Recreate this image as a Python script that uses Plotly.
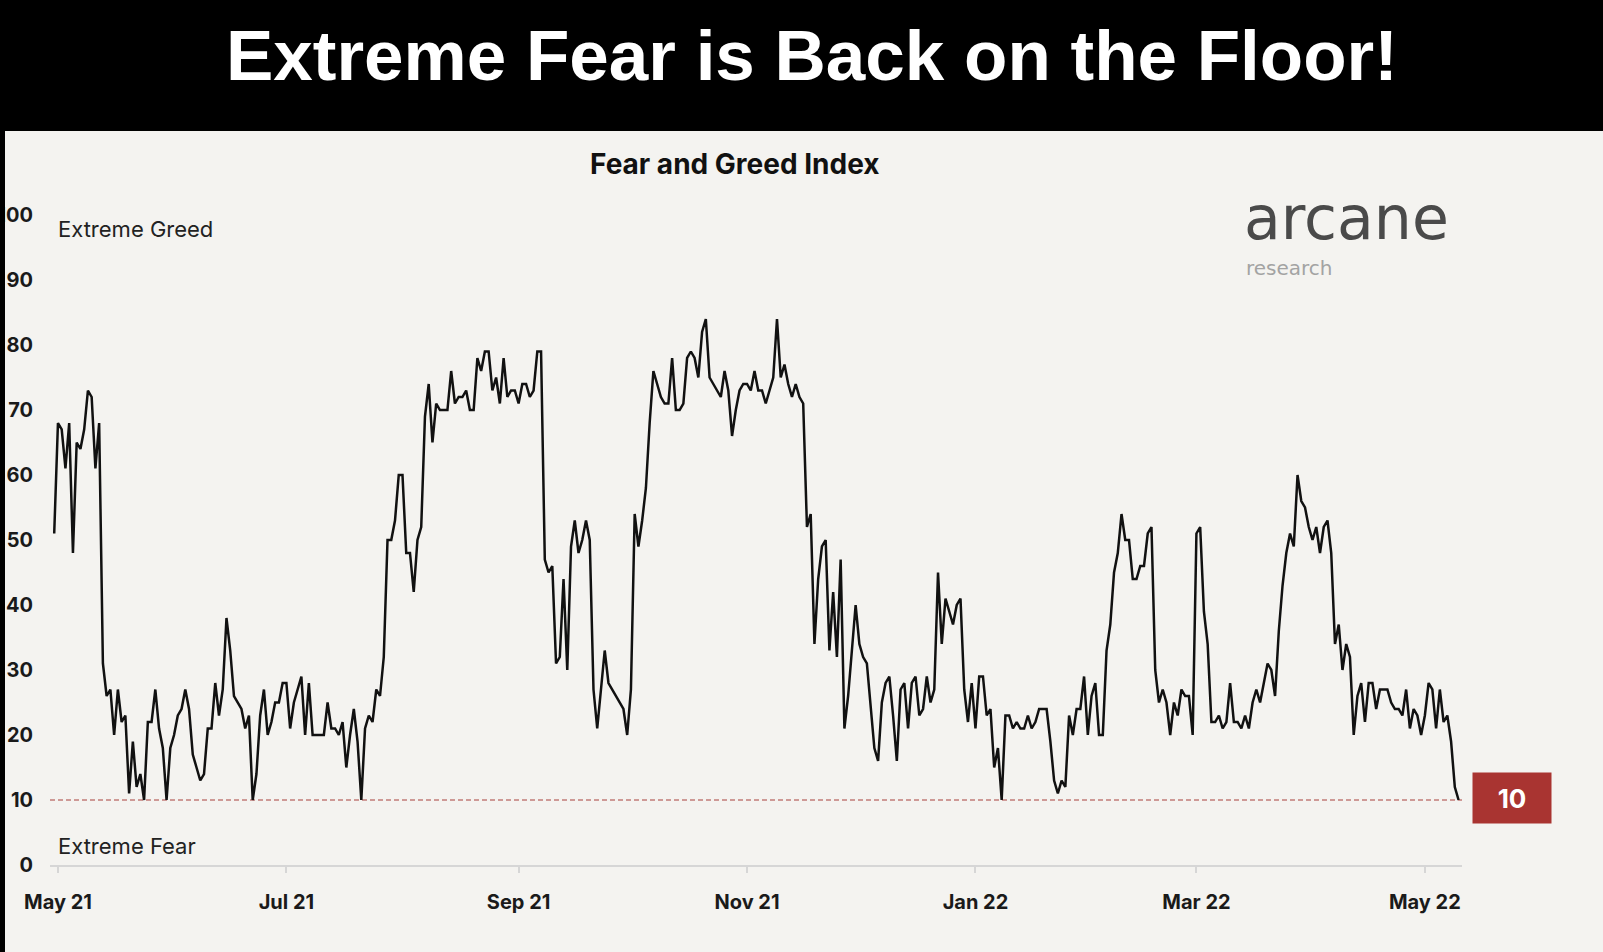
import pandas as pd
import plotly.graph_objects as go

# daily Fear & Greed readings, starting 30 Apr 2021
start_date = "2021-04-30"

fng_may_jul_2021 = [
    51, 68, 67, 61, 68, 48, 65, 64, 67, 73,
    72, 61, 68, 31, 26, 27, 20, 27, 22, 23,
    11, 19, 12, 14, 10, 22, 22, 27, 21, 18,
    10, 18, 20, 23, 24, 27, 24, 17, 15, 13,
    14, 21, 21, 28, 23, 27, 38, 33, 26, 25,
    24, 21, 23, 10, 14, 23, 27, 20, 22, 25,
    25, 28, 28, 21, 25, 27, 29, 20, 28, 20,
    20, 20, 20, 25, 21, 21, 20, 22, 15, 20,
    24, 19, 10, 21, 23, 22, 27, 26, 32,
]
fng_jul_nov_2021 = [
    50, 50, 53, 60, 60, 48, 48, 42, 50, 52,
    69, 74, 65, 71, 70, 70, 70, 76, 71, 72,
    72, 73, 70, 70, 78, 76, 79, 79, 73, 75,
    71, 78, 72, 73, 73, 71, 74, 74, 72, 73,
    79, 79, 47, 45, 46, 31, 32, 44, 30, 49,
    53, 48, 50, 53, 50, 27, 21, 27, 33, 28,
    27, 26, 25, 24, 20, 27, 54, 49, 53, 58,
    68, 76, 74, 72, 71, 71, 78, 70, 70, 71,
    78, 79, 78, 75, 82, 84, 75, 74, 73, 72,
    76, 73, 66, 70, 73, 74, 74, 73, 76, 73,
    73, 71, 73, 75, 84, 75, 77, 74, 72, 74,
    72, 71, 52, 54, 34, 44, 49, 50, 33,
]
fng_nov_2021_feb_2022 = [
    42, 32, 47, 21, 26,
    33, 40, 34, 32, 31, 24, 18, 16, 25, 28,
    29, 23, 16, 27, 28, 21, 28, 29, 23, 24,
    29, 25, 27, 45, 34, 41, 39, 37, 40, 41,
    27, 22, 28, 21, 29, 29, 23, 24, 15, 18,
    10, 23, 23, 21, 22, 21, 21, 23, 21, 22,
    24, 24, 24, 19, 13, 11, 13, 12, 23, 20,
    24, 24, 29, 20, 26, 28, 20, 20, 33, 37,
    45, 48, 54, 50, 50, 44, 44, 46, 46, 51,
    52,
]
fng_feb_may_2022 = [
    30, 25, 27, 25, 20, 25, 23, 27, 26, 26,
    20, 51, 52, 39, 34, 22, 22, 23, 21, 22,
    28, 22, 22, 21, 23, 21, 25, 27, 25, 28,
    31, 30, 26, 36, 43, 48, 51, 49, 60, 56,
    55, 52, 50, 52, 48, 52, 53, 48, 34, 37,
    30, 34, 32, 20, 26, 28, 22, 28, 28, 24,
    27, 27, 27, 25, 24, 24, 23, 27, 21, 24,
    23, 20, 23, 28, 27, 21, 27, 22, 23, 19,
    12, 10,
]

tick_dates = ["2021-05-01", "2021-07-01", "2021-09-01", "2021-11-01",
              "2022-01-01", "2022-03-01", "2022-05-01"]
tick_labels = ["May 21", "Jul 21", "Sep 21", "Nov 21", "Jan 22", "Mar 22", "May 22"]
y_ticks = list(range(0, 101, 10))
extreme_fear_level = 10

values = fng_may_jul_2021 + fng_jul_nov_2021 + fng_nov_2021_feb_2022 + fng_feb_may_2022
dates = pd.date_range(start_date, periods=len(values), freq="D")

# page geometry (pixels) -> paper coords
W, H = 1603, 952
L, R, T, B = 50, 1462, 215, 865
def px(x):
    return (x - L) / (R - L)
def py(y):
    return (B - y) / (B - T)

BG = "#f4f3f0"
FONT = "Inter"
LOGO = "DejaVu Sans"

fig = go.Figure()
fig.add_trace(go.Scatter(x=dates, y=values, mode="lines",
                         line=dict(color="#111111", width=2.5),
                         hoverinfo="x+y", showlegend=False))

# extreme fear reference line
fig.add_shape(type="line", xref="paper", yref="y", x0=0, x1=1,
              y0=extreme_fear_level, y1=extreme_fear_level,
              line=dict(color="#a8403c", width=1, dash="5px,3px"), layer="below")

# black banner + left strip
fig.add_shape(type="rect", xref="paper", yref="paper",
              x0=px(0), x1=px(W), y0=py(131), y1=py(0),
              fillcolor="black", line_width=0, layer="above")
fig.add_shape(type="rect", xref="paper", yref="paper",
              x0=px(0), x1=px(5), y0=py(H), y1=py(0),
              fillcolor="black", line_width=0, layer="above")

ann = [
    dict(text="<b>Extreme Fear is Back on the Floor!</b>", x=px(812), y=py(55),
         font=dict(family="Liberation Sans, Arial", size=71, color="white")),
    dict(text="<b>Fear and Greed Index</b>", x=px(735), y=py(164),
         font=dict(family=FONT, size=28, color="#111111")),
    dict(text="Extreme Greed", x=px(56), y=py(229), xanchor="left",
         font=dict(family=FONT, size=22, color="#222222")),
    dict(text="Extreme Fear", x=px(56), y=py(846), xanchor="left",
         font=dict(family=FONT, size=22, color="#222222")),
    dict(text="arcane", x=px(1242), y=py(218), xanchor="left",
         font=dict(family=LOGO, size=60, color="#4a4a4a")),
    dict(text="research", x=px(1244), y=py(268), xanchor="left",
         font=dict(family=LOGO, size=20, color="#a3a3a3")),
    dict(text="<b>%d</b>" % values[-1], x=px(1512), y=py(798),
         width=78, height=50, bgcolor="#a93431", borderpad=0,
         font=dict(family=FONT, size=26, color="white")),
]
for a in ann:
    a.setdefault("xanchor", "center")
    fig.add_annotation(xref="paper", yref="paper", yanchor="middle",
                       showarrow=False, **a)

fig.update_layout(
    width=W, height=H,
    margin=dict(l=L, r=W - R, t=T, b=H - B),
    paper_bgcolor=BG, plot_bgcolor=BG,
    showlegend=False,
)
fig.update_xaxes(
    range=["2021-04-28 21:00", "2022-05-10 22:00"],
    tickvals=tick_dates, ticktext=tick_labels,
    showgrid=False, zeroline=False, automargin=False,
    showline=True, linecolor="#d6d6d6", linewidth=1.5,
    ticks="outside", ticklen=6, tickwidth=1.5, tickcolor="#d6d6d6",
    ticklabelstandoff=12,
    tickfont=dict(family=FONT, size=20, color="#1a1a1a", weight=700),
)
# the "100" label runs past the left edge on purpose, as in the source image
fig.update_yaxes(
    range=[0, 100], tickvals=y_ticks, automargin=False,
    showgrid=False, zeroline=False, showline=False, ticks="",
    ticklabelstandoff=16,
    tickfont=dict(family=FONT, size=20, color="#1a1a1a", weight=700),
)

# drop the page's default body margin so the figure sits at the window corner
fig.write_html("out.html", config={"displayModeBar": False},
               post_script="document.body.style.margin='0';document.body.style.overflow='hidden';")
